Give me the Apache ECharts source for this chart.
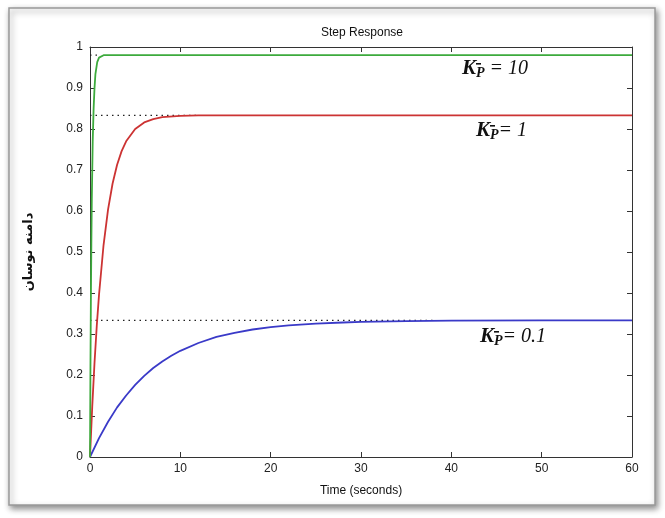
<!DOCTYPE html>
<html>
<head>
<meta charset="utf-8">
<script src="https://cdn.jsdelivr.net/npm/echarts@6/dist/echarts.min.js"></script>
<style>html,body{margin:0;padding:0;background:#fff}#c{width:665px;height:518px}</style>
</head>
<body>
<div id="c"></div>
<script>
var titleText = 'Step Response';
var xName = 'Time (seconds)';
var yName = 'دامنه نوسان';
var xTicks = [0, 10, 20, 30, 40, 50, 60];
var yTicks = [0, 0.1, 0.2, 0.3, 0.4, 0.5, 0.6, 0.7, 0.8, 0.9, 1];

// Kp = 10 (green)
var timeG = [0, 0.05, 0.1, 0.15, 0.2, 0.3, 0.4, 0.5, 0.6, 0.8, 1.0, 1.5, 60];
var valG  = [0, 0.22, 0.39, 0.52, 0.63, 0.77, 0.85, 0.90, 0.934, 0.963, 0.974, 0.980, 0.980];
// Kp = 1 (red)
var timeR = [0, 0.25, 0.5, 0.75, 1, 1.5, 2, 2.5, 3, 3.5, 4, 5, 6, 7, 8, 10, 12, 60];
var valR  = [0, 0.124, 0.230, 0.320, 0.396, 0.517, 0.604, 0.667, 0.713, 0.746, 0.770, 0.800, 0.816, 0.824, 0.829, 0.832, 0.833, 0.833];
// Kp = 0.1 (blue)
var timeB = [0, 1, 2, 3, 4, 5, 6, 7, 8, 9, 10, 12, 14, 16, 18, 20, 22, 25, 28, 30, 35, 40, 50, 60];
var valB  = [0, 0.046, 0.086, 0.121, 0.150, 0.176, 0.198, 0.217, 0.233, 0.247, 0.259, 0.278, 0.293, 0.303, 0.311, 0.317, 0.321, 0.3255, 0.328, 0.3297, 0.3316, 0.3325, 0.333, 0.3333];
// steady-state dotted markers
var ssR = [[0, 0.833], [12, 0.833]];
var ssB = [[0, 0.333], [38, 0.333]];
var ssG = [[0, 0.980], [1, 0.980]];

var labels = ['10', '1', '0.1'];

function zip(t, v) { return t.map(function (x, i) { return [x, v[i]]; }); }

var chart = echarts.init(document.getElementById('c'), null, {renderer: 'canvas'});
var axisLine = {show: true, onZero: false, lineStyle: {color: '#333', width: 1}};
var tickStyle = {show: true, inside: true, length: 5, lineStyle: {color: '#333'}};
var font = 'Liberation Sans, Arial, sans-serif';
var serif = 'Liberation Serif, Times New Roman, serif';

function kLabel(val, left, top, eqGap) {
  return {
    type: 'text', left: left, top: top, z: 100,
    style: {
      rich: {
        k: {fontFamily: serif, fontStyle: 'italic', fontWeight: 'bold', fontSize: 21, fill: '#111'},
        s: {fontFamily: serif, fontStyle: 'italic', fontWeight: 'bold', fontSize: 14, fill: '#111', padding: [10, 0, 0, 0]},
        e: {fontFamily: serif, fontStyle: 'italic', fontSize: 20, fill: '#111'}
      },
      text: '{k|K}{s|P}{e|' + eqGap + '= ' + val + '}'
    }
  };
}
function kDash(left, top) {
  return {type: 'rect', left: left, top: top, z: 100, shape: {width: 5, height: 1.6}, style: {fill: '#111'}};
}

chart.setOption({
  animation: false,
  backgroundColor: '#fff',
  graphic: [
    {type: 'rect', shape: {x: 9, y: 8, width: 646, height: 497}, z: -10,
     style: {fill: '#fff', stroke: '#999', lineWidth: 1.5, shadowBlur: 6, shadowColor: 'rgba(0,0,0,0.45)', shadowOffsetX: 2, shadowOffsetY: 3}},
    kLabel(labels[0], 462, 58, ' '),
    kDash(476, 63),
    kLabel(labels[1], 476, 120, ''),
    kDash(490, 125),
    kLabel(labels[2], 480, 326, ''),
    kDash(494, 331)
  ],
  title: {text: titleText, left: 357, top: 22, textAlign: 'center',
          textStyle: {fontFamily: font, fontSize: 12, fontWeight: 'normal', color: '#111'}},
  grid: {left: 90, right: 33, top: 47, bottom: 61, show: false},
  xAxis: [
    {type: 'value', min: 0, max: 60, interval: 10, position: 'bottom',
     name: xName, nameLocation: 'middle', nameGap: 28,
     nameTextStyle: {fontFamily: font, fontSize: 12, color: '#111'},
     axisLine: axisLine, axisTick: tickStyle, splitLine: {show: false},
     axisLabel: {fontFamily: font, fontSize: 12, color: '#222', margin: 6}},
    {type: 'value', min: 0, max: 60, interval: 10, position: 'top',
     axisLine: axisLine, axisTick: tickStyle, splitLine: {show: false}, axisLabel: {show: false}}
  ],
  yAxis: [
    {type: 'value', min: 0, max: 1, interval: 0.1, position: 'left',
     name: yName, nameLocation: 'middle', nameGap: 55, nameRotate: 90,
     nameTextStyle: {fontFamily: 'DejaVu Sans, sans-serif', fontSize: 13, fontWeight: 'bold', color: '#111'},
     axisLine: axisLine, axisTick: tickStyle, splitLine: {show: false},
     axisLabel: {fontFamily: font, fontSize: 12, color: '#222', margin: 7,
       formatter: function (v) { return String(parseFloat(v.toFixed(1))); }}},
    {type: 'value', min: 0, max: 1, interval: 0.1, position: 'right',
     axisLine: axisLine, axisTick: tickStyle, splitLine: {show: false}, axisLabel: {show: false}}
  ],
  series: [
    {type: 'line', data: ssR, symbol: 'none', lineStyle: {color: '#222', width: 1.2, type: [1.5, 4]}, z: 1},
    {type: 'line', data: ssB, symbol: 'none', lineStyle: {color: '#222', width: 1.2, type: [1.5, 4]}, z: 1},
    {type: 'line', data: ssG, symbol: 'none', lineStyle: {color: '#222', width: 1.2, type: [1.5, 4]}, z: 1},
    {type: 'line', data: zip(timeB, valB), symbol: 'none', smooth: false, lineStyle: {color: '#3a3ac8', width: 1.8}, z: 3},
    {type: 'line', data: zip(timeR, valR), symbol: 'none', smooth: false, lineStyle: {color: '#cc3333', width: 1.8}, z: 3},
    {type: 'line', data: zip(timeG, valG), symbol: 'none', smooth: false, lineStyle: {color: '#3daa3d', width: 1.8}, z: 3}
  ]
});
</script>
</body>
</html>
